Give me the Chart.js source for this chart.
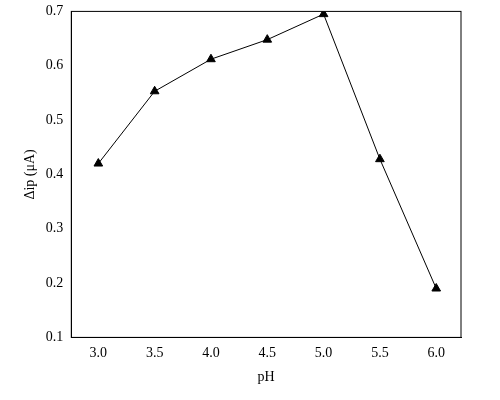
<!DOCTYPE html>
<html><head><script src="https://cdn.jsdelivr.net/npm/chart.js@4"></script>
<style>body{margin:0;background:#fff}#w{width:500px;height:400px}</style></head>
<body><div id="w"><canvas id="c"></canvas></div>
<script>
const phValues=[3.0,3.5,4.0,4.5,5.0,5.5,6.0];
const dipValues=[0.42,0.553,0.612,0.648,0.695,0.428,0.19];
const xTicks=[3.0,3.5,4.0,4.5,5.0,5.5,6.0];
const yTicks=[0.1,0.2,0.3,0.4,0.5,0.6,0.7];
const frame={id:'frame',afterDraw(ch){const a=ch.chartArea,c=ch.ctx;c.save();c.strokeStyle='#000';c.lineWidth=1;c.strokeRect(a.left,a.top,a.right-a.left,a.bottom-a.top);c.restore();}};
const F={family:'Liberation Serif',size:14};
new Chart(document.getElementById('c'),{type:'scatter',
data:{datasets:[{data:phValues.map((x,i)=>({x,y:dipValues[i]})),showLine:true,borderColor:'#000',borderWidth:1,pointStyle:'triangle',pointRadius:5,backgroundColor:'#000',pointBorderColor:'#000'}]},
options:{responsive:true,maintainAspectRatio:false,animation:false,layout:{padding:{top:10,right:39,bottom:10,left:18}},
plugins:{legend:{display:false},tooltip:{enabled:false}},
scales:{x:{type:'linear',min:2.76,max:6.22,afterBuildTicks:s=>{s.ticks=xTicks.map(v=>({value:v}))},
ticks:{color:'#000',font:F,callback:v=>v.toFixed(1),maxRotation:0},grid:{display:false,drawTicks:true,tickLength:5,tickColor:'#000'},border:{color:'#000'},
title:{display:true,text:'pH',color:'#000',font:F}},
y:{min:0.1,max:0.7,afterBuildTicks:s=>{s.ticks=yTicks.map(v=>({value:v}))},
ticks:{color:'#000',font:F,callback:v=>v.toFixed(1)},grid:{display:false,tickLength:5,tickColor:'#000'},border:{color:'#000'},
title:{display:true,text:'Δip (μA)',color:'#000',font:F}}}},plugins:[frame]});
</script></body></html>
